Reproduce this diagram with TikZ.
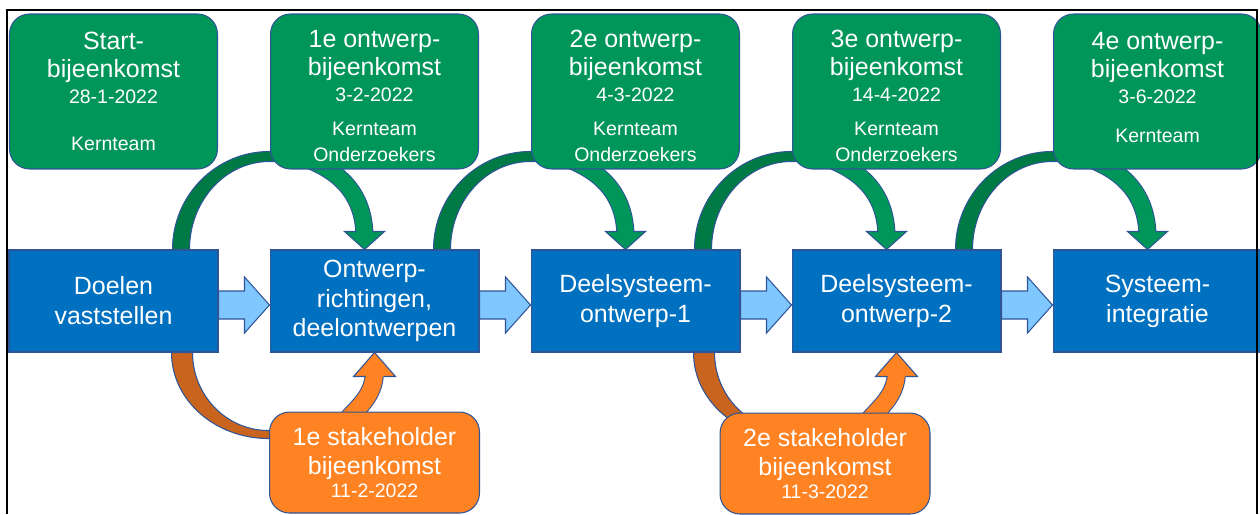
\documentclass[tikz,border=0pt]{standalone}
\usepackage{fontspec}
\setmainfont{Liberation Sans}
\usetikzlibrary{positioning,calc,backgrounds}
\definecolor{projBlue}{HTML}{0070C0}
\definecolor{projLight}{HTML}{80C6FF}
\definecolor{projGreen}{HTML}{00965A}
\definecolor{projDarkGreen}{HTML}{007A45}
\definecolor{projOrange}{HTML}{FF8323}
\definecolor{projDarkOrange}{HTML}{C8641E}
\definecolor{projLine}{HTML}{2F5597}
\newcommand{\boxfont}{\fontsize{14.2}{17}\selectfont}
\newcommand{\klein}[1]{{\fontsize{11.1}{13}\selectfont #1}}
\tikzset{
  bluebox/.style={draw=projLine,fill=projBlue,line width=0.6pt,text=white,
    minimum width=4.18cm,minimum height=2.04cm,align=center,font=\boxfont,inner sep=1pt},
  greenbox/.style={draw=projLine,fill=projGreen,line width=0.6pt,text=white,rounded corners=0.4cm,
    minimum width=4.16cm,minimum height=3.1cm,align=center,font=\boxfont,inner sep=1pt},
  orangebox/.style={draw=projLine,fill=projOrange,line width=0.6pt,text=white,rounded corners=0.4cm,
    minimum width=4.2cm,minimum height=2.02cm,align=center,font=\boxfont,inner sep=1pt},
  blockarrow/.style={draw=projLine,fill=projLight,line width=0.6pt},
  greenband/.style={draw=projLine,line width=0.6pt,double=projGreen,double distance=0.32cm},
  orangeband/.style={draw=projLine,line width=0.6pt,double=projOrange,double distance=0.34cm},
  greenhead/.style={draw=projLine,fill=projGreen,line width=0.6pt},
  orangehead/.style={draw=projLine,fill=projOrange,line width=0.6pt},
  greenarc/.style={draw=projLine,fill=projDarkGreen,line width=0.6pt},
  orangearc/.style={draw=projLine,fill=projDarkOrange,line width=0.6pt}
}

\begin{document}
\begin{tikzpicture}[x=0.02cm,y=0.02cm,node distance=1.02cm]
  \useasboundingbox (0,0) rectangle (1260,-514);

  % werkstappen
  \node[bluebox] (doelen) at (113.5,-301) {Doelen\\vaststellen};
  \node[bluebox, right=of doelen] (richtingen) {Ontwerp-\\richtingen,\\deelontwerpen};
  \node[bluebox, right=of richtingen] (deel1) {Deelsysteem-\\ontwerp-1};
  \node[bluebox, right=of deel1] (deel2) {Deelsysteem-\\ontwerp-2};
  \node[bluebox, right=of deel2] (integratie) {Systeem-\\integratie};

  % bijeenkomsten
  \node[greenbox, above=1.6cm of doelen] (start) {Start-\\[-1pt]bijeenkomst\\[-2.2pt]\klein{28-1-2022}\\[10pt]\klein{Kernteam}};
  \node[greenbox, above=1.6cm of richtingen] (ontw1) {\rule{0pt}{14.8pt}1e ontwerp-\\[-1pt]bijeenkomst\\[-2.2pt]\klein{3-2-2022}\\[2.4pt]\klein{Kernteam}\\[-2.2pt]\klein{Onderzoekers}};
  \node[greenbox, above=1.6cm of deel1] (ontw2) {\rule{0pt}{14.8pt}2e ontwerp-\\[-1pt]bijeenkomst\\[-2.2pt]\klein{4-3-2022}\\[2.4pt]\klein{Kernteam}\\[-2.2pt]\klein{Onderzoekers}};
  \node[greenbox, above=1.6cm of deel2] (ontw3) {\rule{0pt}{14.8pt}3e ontwerp-\\[-1pt]bijeenkomst\\[-2.2pt]\klein{14-4-2022}\\[2.4pt]\klein{Kernteam}\\[-2.2pt]\klein{Onderzoekers}};
  \node[greenbox, above=1.6cm of integratie] (ontw4) {4e ontwerp-\\[-1pt]bijeenkomst\\[-2.2pt]\klein{3-6-2022}\\[5.5pt]\klein{Kernteam}\rule[-4.6pt]{0pt}{1pt}};

  \node[orangebox, below=1.18cm of richtingen] (stake1) {1e stakeholder\\bijeenkomst\\[-4pt]\klein{11-2-2022}};
  \node[orangebox, below=1.2cm of deel2, xshift=-1.43cm] (stake2) {2e stakeholder\\bijeenkomst\\[-4pt]\klein{11-3-2022}};

  \begin{scope}[on background layer]
    % bogen van stap naar volgende bijeenkomst
    \foreach \b in {doelen,richtingen,deel1,deel2}
      \draw[greenarc] ($(\b.north east)+(-46,0)$) arc[start angle=180,end angle=90,x radius=97,y radius=98]
        -- ++(12,0) -- ++(0,-10) -- ++(-12,0)
        arc[start angle=90,end angle=180,x radius=80,y radius=88] -- cycle;
    \foreach \b in {doelen,deel1}
      \draw[orangearc] ($(\b.south east)+(-47,0)$) arc[start angle=180,end angle=270,x radius=97,y radius=86]
        -- ++(12,0) -- ++(0,8) -- ++(-12,0)
        arc[start angle=270,end angle=180,x radius=76,y radius=78] -- cycle;

    % pijlen van bijeenkomst naar stap
    \foreach \g/\d in {ontw1/richtingen,ontw2/deel1,ontw3/deel2,ontw4/integratie} {
      \coordinate (tip) at ($(\d.north)+(-10,0)$);
      \draw[greenband] ($(\g.south)+(-78,14)$) .. controls ($(tip)+(-36,84)$) and ($(tip)+(0,64)$) .. ($(tip)+(0,12)$);
      \filldraw[greenhead] ($(tip)+(-8,18)$) -- ($(tip)+(-20,18)$) -- (tip) -- ($(tip)+(20,18)$) -- ($(tip)+(8,18)$);
    }
    \foreach \o/\d in {stake1/richtingen,stake2/deel2} {
      \coordinate (tip) at (\d.south);
      \draw[orangeband] ($(tip)+(-34,-75)$) .. controls ($(tip)+(-18,-55)$) and ($(tip)+(0,-45)$) .. ($(tip)+(0,-18)$);
      \filldraw[orangehead] ($(tip)+(-9,-24)$) -- ($(tip)+(-21,-24)$) -- (tip) -- ($(tip)+(21,-24)$) -- ($(tip)+(9,-24)$);
    }
  \end{scope}

  \foreach \a/\b in {doelen/richtingen,richtingen/deel1,deel1/deel2,deel2/integratie}
    \draw[blockarrow] ($(\a.east)+(0,10)$) -- ($(\b.west)+(-25,10)$) -- ($(\b.west)+(-25,24)$) -- ($(\b.west)+(0,-4)$)
      -- ($(\b.west)+(-25,-32)$) -- ($(\b.west)+(-25,-18)$) -- ($(\a.east)+(0,-18)$) -- cycle;

  \draw[line width=1.1pt] (7,-514) |- (1257,-10) -- (1257,-514);
\end{tikzpicture}
\end{document}
